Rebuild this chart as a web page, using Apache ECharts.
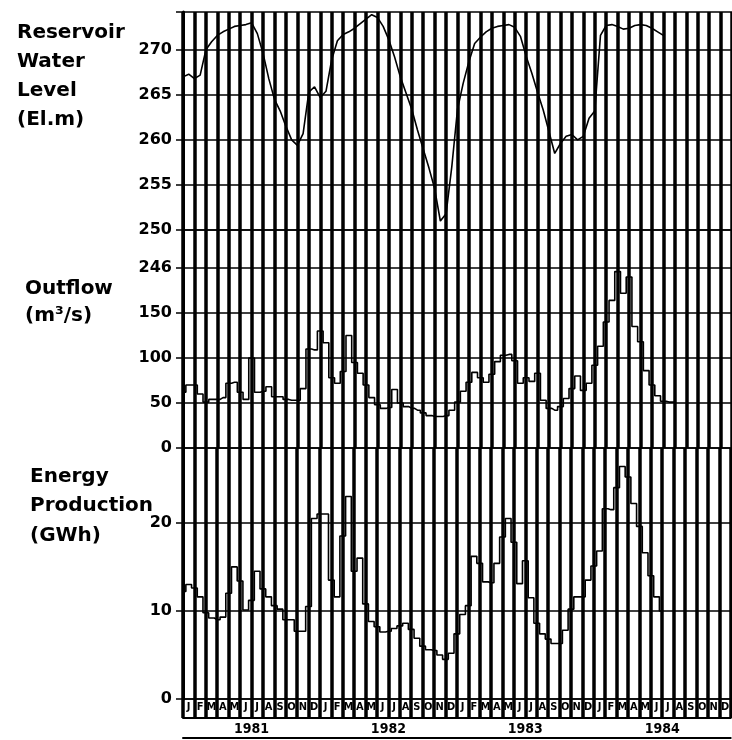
<!DOCTYPE html>
<html>
<head>
<meta charset="utf-8">
<script src="https://cdn.jsdelivr.net/npm/echarts@6/dist/echarts.min.js"></script>
<style>
  html, body { margin: 0; padding: 0; background: #fff; }
  #chart { width: 732px; height: 740px; }
</style>
</head>
<body>
<div id="chart"></div>
<script>
const years = ["1981", "1982", "1983", "1984"];
const monthLetters = ["J", "F", "M", "A", "M", "J", "J", "A", "S", "O", "N", "D"];

// one reading every half month, starting at the beginning of Jan 1981
const levelValues = [
  267.0, 267.3, 266.8, 267.2, 270.0, 270.9, 271.6, 272.0, 272.3, 272.6,
  272.7, 272.8, 273.0, 271.8, 269.6, 266.8, 264.5, 263.2, 261.5, 260.0,
  259.4, 260.7, 265.3, 265.9, 264.7, 265.4, 268.9, 271.0, 271.7, 272.0,
  272.4, 272.9, 273.4, 273.9, 273.6, 272.6, 271.1, 269.2, 267.0, 265.2,
  263.4, 261.1, 259.0, 256.9, 254.6, 251.0, 251.8, 257.0, 263.4, 266.3,
  268.7, 270.7, 271.4, 272.0, 272.4, 272.6, 272.7, 272.8, 272.5, 271.5,
  269.3, 267.4, 265.3, 263.3, 260.9, 258.5, 259.6, 260.4, 260.6, 260.0,
  260.4, 262.4, 263.2, 271.6, 272.7, 272.8, 272.6, 272.3, 272.4, 272.7,
  272.8, 272.7, 272.4, 272.0, 271.6
];

// outflow drawn on the chart's own scale (the top gridline is marked 246)
const outflowValues = [
  62, 70, 70, 60, 51, 54, 54, 56, 72, 73,
  62, 54, 100, 62, 63, 68, 57, 57, 54, 53,
  53, 66, 110, 109, 130, 117, 78, 72, 85, 125,
  95, 83, 70, 56, 48, 44, 45, 65, 50, 46,
  44, 42, 39, 36, 35, 35, 36, 42, 51, 63,
  73, 84, 78, 73, 82, 96, 103, 104, 97, 72,
  78, 74, 83, 53, 44, 42, 46, 55, 66, 80,
  64, 72, 92, 113, 140, 164, 196, 172, 190, 135,
  118, 86, 70, 58, 52, 51, 51
];

const energyValues = [
  12.2, 13.0, 12.6, 11.6, 9.8, 9.2, 9.0, 9.3, 12.0, 15.0,
  13.4, 10.1, 11.2, 14.5, 12.5, 11.6, 10.6, 10.2, 9.0, 9.0,
  7.7, 7.7, 10.5, 20.5, 21.0, 21.0, 13.5, 11.6, 18.5, 23.0,
  14.5, 16.0, 10.8, 8.8, 8.2, 7.6, 7.7, 8.0, 8.3, 8.6,
  7.9, 6.9, 6.0, 5.6, 5.5, 5.0, 4.5, 5.2, 7.4, 9.6,
  10.6, 16.2, 15.4, 13.3, 13.2, 15.4, 18.4, 20.5, 17.8, 13.1,
  15.7, 11.5, 8.6, 7.4, 6.8, 6.3, 6.3, 7.8, 10.2, 11.6,
  11.6, 13.5, 15.1, 16.8, 21.6, 21.5, 24.0, 26.4, 25.2, 22.2,
  19.6, 16.6, 14.0, 11.6, 10.0
];

const levelTicks = [250, 255, 260, 265, 270];
const outflowTicks = [0, 50, 100, 150, 200];
const outflowTickLabels = ["0", "50", "100", "150", "246"];
const energyTicks = [0, 10, 20];

const monthCategories = years.flatMap(() => monthLetters);
const black = "#000";

function halfMonthPoints(values) {
  return values.map((v, i) => [i * 0.5, v]);
}

function dataXAxis(gridIndex) {
  return { type: "value", gridIndex, min: 0, max: 48, show: false };
}

function monthXAxis(gridIndex, withLabels) {
  return {
    type: "category",
    gridIndex,
    data: monthCategories,
    position: "bottom",
    boundaryGap: true,
    axisLine: { show: withLabels, lineStyle: { color: black, width: 1.5 } },
    axisTick: { show: withLabels, interval: 0, length: 19, lineStyle: { color: black, width: 3.5 } },
    axisLabel: {
      show: withLabels, interval: 0, margin: 3,
      fontFamily: "DejaVu Sans Condensed", fontWeight: "bold", fontSize: 11, color: black
    },
    splitLine: { show: true, interval: 0, lineStyle: { color: black, width: 3.5 } }
  };
}

function valueYAxis(gridIndex, min, max, ticks, labels) {
  return {
    type: "value",
    gridIndex,
    min, max,
    interval: ticks[1] - ticks[0],
    axisLine: { show: true, lineStyle: { color: black, width: 3 } },
    axisTick: { show: true, length: 7, lineStyle: { color: black, width: 1.5 } },
    axisLabel: {
      margin: 11,
      fontFamily: "DejaVu Sans", fontWeight: "bold", fontSize: 16, color: black,
      formatter: (v) => {
        const k = ticks.findIndex((t) => Math.abs(t - v) < 1e-6);
        return k < 0 ? "" : labels[k];
      }
    },
    splitLine: { show: true, lineStyle: { color: black, width: 1.5 } }
  };
}

function lineSeries(axisIndex, yIndex, values, step) {
  return {
    type: "line",
    xAxisIndex: axisIndex,
    yAxisIndex: yIndex,
    data: halfMonthPoints(values),
    symbol: "none",
    step: step,
    lineStyle: { color: black, width: 1.6 },
    z: 5
  };
}

const titleFont = { fontFamily: "DejaVu Sans", fontWeight: "bold", fontSize: 20, color: black };

const chart = echarts.init(document.getElementById("chart"));
chart.setOption({
  animation: false,
  backgroundColor: "#fff",
  title: [
    { text: "Reservoir\nWater\nLevel\n(El.m)", left: 12, top: 13, textStyle: { ...titleFont, lineHeight: 29 } },
    { text: "Outflow\n(m³/s)", left: 20, top: 270, textStyle: { ...titleFont, lineHeight: 27 } },
    { text: "Energy\nProduction\n(GWh)", left: 25, top: 457, textStyle: { ...titleFont, lineHeight: 29.5 } }
  ],
  grid: [
    { left: 183, width: 559, top: 12, height: 218 },
    { left: 183, width: 559, top: 230, height: 218 },
    { left: 183, width: 559, top: 448, height: 251 }
  ],
  xAxis: [
    dataXAxis(0), monthXAxis(0, false),
    dataXAxis(1), monthXAxis(1, false),
    dataXAxis(2), monthXAxis(2, true),
    {
      type: "category",
      gridIndex: 2,
      data: years,
      position: "bottom",
      offset: 19,
      axisLine: { lineStyle: { color: black, width: 2 } },
      axisTick: { interval: 0, length: 20, lineStyle: { color: black, width: 2 } },
      axisLabel: {
        margin: 4,
        fontFamily: "DejaVu Sans Condensed", fontWeight: "bold", fontSize: 14, color: black
      },
      splitLine: { show: false }
    },
    {
      type: "category",
      gridIndex: 2,
      data: years,
      position: "bottom",
      offset: 39,
      axisLine: { lineStyle: { color: black, width: 2 } },
      axisTick: { show: false },
      axisLabel: { show: false },
      splitLine: { show: false }
    }
  ],
  yAxis: [
    valueYAxis(0, 250, 274.2, levelTicks, levelTicks.map(String)),
    valueYAxis(1, 0, 242.2, outflowTicks, outflowTickLabels),
    valueYAxis(2, 0, 28.5, energyTicks, energyTicks.map(String))
  ],
  series: [
    lineSeries(0, 0, levelValues, false),
    lineSeries(2, 1, outflowValues, "middle"),
    lineSeries(4, 2, energyValues, "middle")
  ]
});
</script>
</body>
</html>
